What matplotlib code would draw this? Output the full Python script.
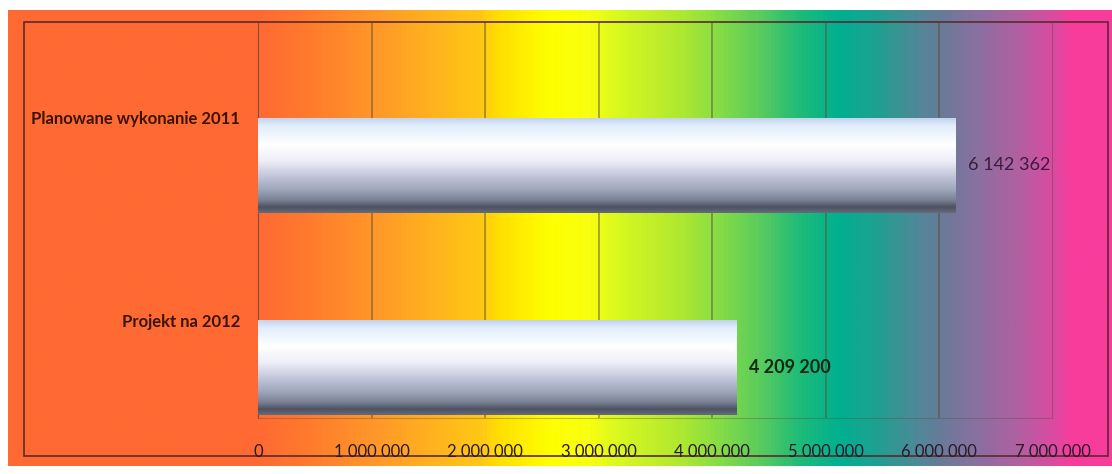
import matplotlib.pyplot as plt
import numpy as np
from matplotlib.colors import LinearSegmentedColormap

# data
categories = ['Projekt na 2012', 'Planowane wykonanie 2011']
values = [4209200, 6142362]
value_labels = ['4 209 200', '6 142 362']
label_bold = [True, False]
label_colors = ['#0f2a10', '#3a1c3c']
xticks = [0, 1000000, 2000000, 3000000, 4000000, 5000000, 6000000, 7000000]
xtick_labels = ['0', '1 000 000', '2 000 000', '3 000 000', '4 000 000',
                '5 000 000', '6 000 000', '7 000 000']

W, H = 1112, 474
fig = plt.figure(figsize=(W / 100, H / 100), dpi=100)
fig.patch.set_facecolor('white')

# background rainbow gradient (chart area)
bg_stops = [(0.0, '#ff6a33'), (0.226, '#ff6a33'), (0.265, '#ff782e'),
            (0.337, '#ff9a28'), (0.4275, '#ffc815'), (0.4457, '#ffe000'),
            (0.491, '#ffff00'), (0.527, '#f8ff10'), (0.554, '#d8f820'),
            (0.609, '#b0e830'), (0.636, '#90e040'), (0.681, '#5ccc5c'),
            (0.717, '#20bc78'), (0.754, '#00b090'), (0.79, '#20a090'),
            (0.826, '#508898'), (0.849, '#6a7a98'), (0.88, '#8a70a0'),
            (0.917, '#b060a0'), (0.953, '#e048a0'), (0.966, '#f83c9c'),
            (1.0, '#f83c9c')]
bg_cmap = LinearSegmentedColormap.from_list('bg', bg_stops)
bg = fig.add_axes([8 / W, 1 - 466 / H, (W - 8) / W, (466 - 10) / H], zorder=-2)
bg.imshow(np.linspace(0, 1, 800).reshape(1, -1), cmap=bg_cmap, aspect='auto',
          extent=[0, 1, 0, 1])
bg.set_xlim(0, 1)
bg.set_ylim(0, 1)
bg.axis('off')

# inner chart border
fig.patches.append(plt.Rectangle((24 / W, 1 - 456 / H), (1108 - 24) / W, (456 - 22) / H,
                                 transform=fig.transFigure, fill=False,
                                 edgecolor='#5a2a30', lw=1.2, zorder=-1))

ax = fig.add_axes([258 / W, 1 - 418 / H, (1053 - 258) / W, (418 - 22) / H])
ax.set_facecolor('none')

ypos = np.arange(len(categories))
bar_h = 0.47
bars = ax.barh(ypos, values, height=bar_h, color='none', edgecolor='none', zorder=3)

# silver cylinder look
bar_stops = [(0.0, '#c4d4ee'), (0.08, '#e2eefc'), (0.28, '#ffffff'),
             (0.45, '#eeeef8'), (0.6, '#c6c8dc'), (0.75, '#a0a8bc'),
             (0.87, '#788092'), (0.94, '#4c5262'), (1.0, '#646a7a')]
bar_cmap = LinearSegmentedColormap.from_list('bar', bar_stops)
grad = np.linspace(0, 1, 200).reshape(-1, 1)
for b in bars:
    x0, y0, w, h = b.get_x(), b.get_y(), b.get_width(), b.get_height()
    im = ax.imshow(grad, cmap=bar_cmap, aspect='auto', origin='upper',
                   extent=[x0, x0 + w, y0, y0 + h], zorder=3)
    im.set_clip_path(b)

for b, txt, bold, c in zip(bars, value_labels, label_bold, label_colors):
    ax.text(b.get_width() + 110000, b.get_y() + b.get_height() / 2, txt,
            va='center', ha='left', fontsize=13, family='Lato',
            fontweight='bold' if bold else 'normal', color=c, zorder=4)

ax.set_xlim(0, 7000000)
ax.set_ylim(-0.25, 1.71)
ax.set_xticks(xticks)
ax.set_xticklabels(xtick_labels, family='Lato', fontsize=12, color='#2a1a2a')
ax.tick_params(axis='x', length=0, pad=19)
ax.set_yticks(ypos + bar_h / 2)
ax.set_yticklabels(categories, family='Lato', fontsize=12, fontweight='bold',
                   color='#3a1408')
ax.tick_params(axis='y', length=0, pad=13)
ax.grid(axis='x', color='#5a4a30', alpha=0.6, lw=1.1, zorder=1)
ax.set_axisbelow(True)
for s in ['top', 'right']:
    ax.spines[s].set_visible(False)
ax.spines['bottom'].set_color('#5a4a40')
ax.spines['bottom'].set_alpha(0.35)
ax.spines['left'].set_color('#6a4a40')
ax.spines['left'].set_alpha(0.7)

fig.savefig('out.png', dpi=100)
